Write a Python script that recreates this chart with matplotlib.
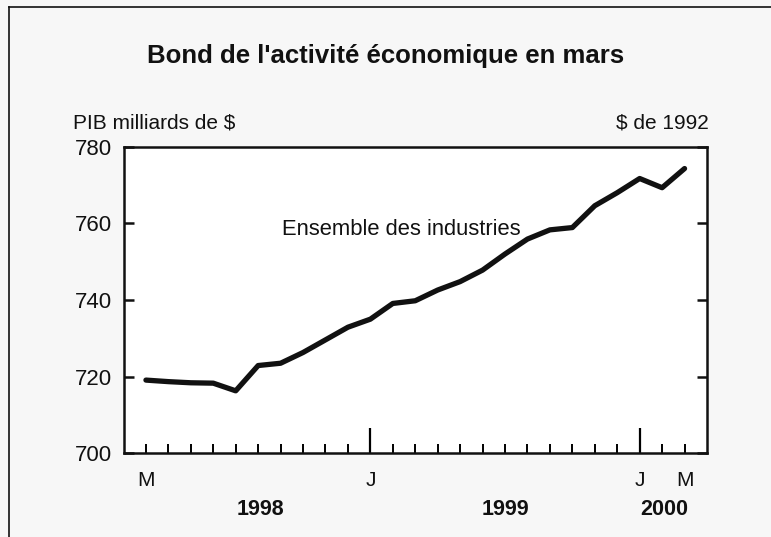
import matplotlib
matplotlib.use("Agg")
import matplotlib.pyplot as plt
from matplotlib.lines import Line2D
import matplotlib.transforms as mtransforms

# Data: monthly GDP, March 1998 - March 2000 (billions of 1992 $)
months = ["M98", "A98", "M98", "J98", "J98", "A98", "S98", "O98", "N98", "D98",
          "J99", "F99", "M99", "A99", "M99", "J99", "J99", "A99", "S99", "O99",
          "N99", "D99", "J00", "F00", "M00"]
values = [719.1, 718.7, 718.4, 718.3, 716.3, 722.9, 723.5, 726.3, 729.6, 732.9,
          735.0, 739.1, 739.8, 742.6, 744.8, 747.8, 752.0, 755.9, 758.3, 758.9,
          764.6, 768.0, 771.7, 769.3, 774.3]
month_label_pos = [0, 10, 22, 24]
month_labels = ["M", "J", "J", "M"]
year_label_pos = [5.1, 16.0, 23.1]
year_labels = ["1998", "1999", "2000"]
major_tick_pos = [10, 22]
y_ticks = [700, 720, 740, 760, 780]

plt.rcParams['font.family'] = ['Liberation Sans', 'DejaVu Sans']

W, H = 771, 537
fig = plt.figure(figsize=(W / 100, H / 100), dpi=100, facecolor="#f7f7f7")

def fx(px):
    return px / W

def fy(py):
    return 1 - py / H

ax = fig.add_axes([fx(123.5), fy(453.3), fx(707) - fx(123.5), fy(146.7) - fy(453.3)])
ax.set_facecolor("white")

x = list(range(len(values)))
ax.plot(x, values, color="#111111", lw=3.8, solid_capstyle="round", solid_joinstyle="round")

ax.set_xlim(-1.0, 25.0)
ax.set_ylim(700, 780)

for s in ax.spines.values():
    s.set_linewidth(1.8)
    s.set_color("#111111")

ax.set_yticks(y_ticks)
ax.tick_params(axis="y", direction="in", length=7, width=1.8, left=True, right=True,
               labelsize=16, pad=8, colors="#111111")
ax.set_xticks(major_tick_pos)
ax.set_xticks(x, minor=True)
ax.tick_params(axis="x", which="major", direction="in", length=18, width=1.6, labelbottom=False)
ax.tick_params(axis="x", which="minor", direction="in", length=6.7, width=1.4, labelbottom=False)

trans = mtransforms.blended_transform_factory(ax.transData, fig.transFigure)
for p, lab in zip(month_label_pos, month_labels):
    ax.text(p, fy(480.5), lab, transform=trans, ha="center", va="center", fontsize=15, color="#111111")
for p, lab in zip(year_label_pos, year_labels):
    ax.text(p, fy(509.5), lab, transform=trans, ha="center", va="center", fontsize=15.5,
            fontweight="bold", color="#111111")

ax.text(6.06, 758.3, "Ensemble des industries", ha="left", va="center", fontsize=15.8, color="#111111")

fig.text(fx(385.5), fy(56), "Bond de l'activité économique en mars", ha="center", va="center",
         fontsize=18.5, fontweight="bold", color="#111111")
fig.text(fx(73), fy(123), "PIB milliards de $", ha="left", va="center", fontsize=15, color="#111111")
fig.text(fx(709), fy(123), "$ de 1992", ha="right", va="center", fontsize=15, color="#111111")

# outer frame (left and top edges)
fig.add_artist(Line2D([fx(8.5), fx(8.5)], [0, fy(6.5)], transform=fig.transFigure, color="#111111", lw=1.2))
fig.add_artist(Line2D([fx(8.5), 1], [fy(6.5), fy(6.5)], transform=fig.transFigure, color="#111111", lw=1.2))

fig.savefig("out.png", dpi=100, facecolor=fig.get_facecolor())
